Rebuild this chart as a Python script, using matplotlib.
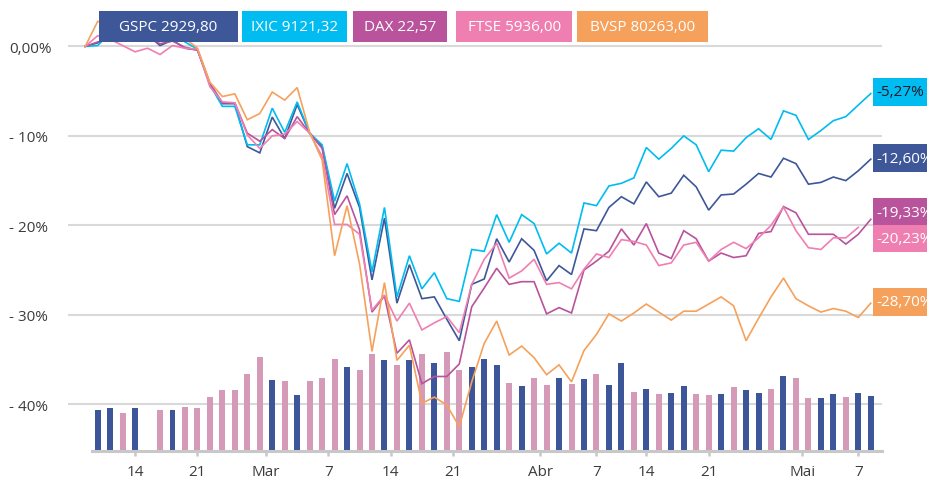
import numpy as np
import matplotlib.pyplot as plt
import matplotlib as mpl
from matplotlib.patches import Rectangle
from matplotlib.transforms import blended_transform_factory

mpl.rcParams['font.family'] = ['Open Sans', 'DejaVu Sans']

# variação acumulada (%) por pregão, primeiro ponto = base
gspc = [0.0, 0.4, 1.0, 1.2, 1.4, 1.3, 0.1, 0.7, -0.2, -0.4,
        -4.2, -6.4, -6.4, -11.2, -11.9, -7.9, -10.3, -6.5, -9.7, -11.2,
        -18.1, -14.2, -18.0, -26.1, -19.2, -28.7, -24.4, -28.2, -28.0, -30.5,
        -32.9, -26.6, -26.0, -21.5, -24.1, -21.5, -22.8, -26.2, -24.5, -25.5,
        -20.4, -20.6, -18.0, -16.8, -17.6, -15.15, -16.8, -16.4, -14.4, -15.7,
        -18.3, -16.6, -16.5, -15.4, -14.2, -14.6, -12.5, -13.1, -15.4, -15.2,
        -14.6, -15.0, -13.9, -12.60]
ixic = [0.0, 0.1, 1.5, 1.8, 2.0, 2.2, 1.0, 1.6, 0.5, -0.3,
        -4.3, -6.7, -6.7, -11.0, -11.0, -6.9, -9.6, -6.2, -9.7, -11.0,
        -17.3, -13.1, -17.6, -25.2, -18.0, -28.0, -23.4, -27.1, -25.3, -28.2,
        -28.5, -22.7, -22.9, -18.8, -21.9, -18.8, -19.8, -23.2, -22.0, -23.1,
        -17.5, -17.8, -15.6, -15.3, -14.7, -11.3, -12.6, -11.4, -10.0, -11.0,
        -14.0, -11.6, -11.7, -10.2, -9.2, -10.4, -7.2, -7.7, -10.4, -9.4,
        -8.3, -7.85, -6.55, -5.27]
dax = [0.0, 0.5, 0.8, 1.0, 1.2, 1.0, 0.3, 0.6, -0.1, -0.4,
       -4.1, -6.3, -6.3, -9.7, -10.6, -9.3, -10.3, -7.85, -9.7, -11.4,
       -18.8, -16.7, -20.5, -29.7, -27.9, -34.3, -32.8, -37.7, -36.9, -36.9,
       -35.5, -29.1, -27.0, -24.8, -26.6, -26.3, -26.3, -29.9, -29.2, -29.8,
       -25.0, -24.0, -22.9, -20.4, -22.2, -19.8, -23.1, -23.7, -20.6, -21.5,
       -24.0, -23.1, -23.6, -23.4, -20.9, -20.7, -17.9, -18.6, -21.0, -21.0,
       -21.0, -22.1, -21.0, -19.33]
ftse = [0.0, 1.2, 0.8, 0.1, -0.6, -0.2, -0.9, 0.1, -0.2, -0.3,
        -4.5, -6.2, -6.3, -9.9, -11.4, -10.0, -9.8, -8.4, -9.7, -12.3,
        -19.9, -19.9, -21.0, -29.5, -27.8, -30.7, -28.7, -31.7, -30.9, -30.2,
        -32.0, -26.6, -23.8, -22.0, -25.9, -25.1, -23.8, -26.6, -26.4, -27.1,
        -24.9, -23.2, -23.6, -21.6, -21.8, -22.2, -24.5, -24.2, -22.2, -21.9,
        -24.0, -22.7, -21.9, -22.6, -21.4, -20.0, -17.95, -20.6, -22.5, -22.7,
        -21.4, -21.4, -20.23]
bvsp = [0.0, 2.8, 2.5, 2.0, 2.2, 2.0, 1.5, 2.0, 0.9, -0.2,
        -4.0, -5.6, -5.3, -8.2, -7.5, -5.1, -6.0, -4.6, -9.6, -12.7,
        -23.4, -17.8, -24.3, -34.1, -26.4, -35.1, -33.4, -39.9, -39.2, -40.1,
        -42.5, -37.5, -33.2, -30.7, -34.5, -33.5, -34.8, -36.7, -35.6, -37.5,
        -34.0, -32.2, -29.9, -30.7, -29.8, -28.8, -29.7, -30.6, -29.6, -29.6,
        -28.8, -28.0, -29.0, -32.9, -30.4, -28.0, -25.9, -28.2, -29.0, -29.7,
        -29.3, -29.6, -30.3, -28.70]

# barras (altura, unidade do gráfico) e sentido do dia (B = alta, P = queda)
bar_vals = [4.56, 4.78, 4.22, 4.78, None, 4.56, 4.56, 4.89, 4.78, 6.0,
            6.78, 6.78, 8.56, 10.56, 7.89, 7.78, 6.22, 7.78, 8.11, 10.33,
            9.44, 9.0, 10.89, 10.22, 9.67, 10.22, 10.89, 9.89, 11.11, 9.11,
            9.44, 10.33, 9.67, 7.56, 7.22, 8.11, 7.33, 8.11, 7.44, 8.0,
            8.56, 7.33, 9.89, 6.56, 6.89, 6.33, 6.44, 7.22, 6.33, 6.22,
            6.33, 7.11, 6.78, 6.44, 6.89, 8.33, 8.11, 5.89, 5.89, 6.33,
            6.0, 6.44, 6.11]
bar_dir = ("BBPB-PBPPP" "PPPPBPBPPP" "BPPBPBPBPP" "BBBPBPPBPB"
           "PBBPBPBBPP" "BPBBPBPPBB" "PBB")

tick_pos = [3, 8, 13.5, 18.5, 23.5, 28.5, 35.5, 40, 44, 49, 56.5, 61]
tick_labels = ['14', '21', 'Mar', '7', '14', '21', 'Abr', '7', '14', '21', 'Mai', '7']

names = ['GSPC', 'IXIC', 'DAX', 'FTSE', 'BVSP']
levels = ['2929,80', '9121,32', '22,57', '5936,00', '80263,00']

c_gspc = '#3d5799'
c_ixic = '#00bcf1'
c_dax = '#b8539c'
c_ftse = '#f07fb1'
c_bvsp = '#f6a15b'
c_bar_up = '#3d5599'
c_bar_dn = '#d49ab8'

W, H = 928, 481
YMIN, YMAX = -45.23, 4.7

fig = plt.figure(figsize=(W / 100, H / 100), dpi=100)
ax = fig.add_axes([68 / W, 1 - 452 / H, (882 - 68) / W, (452 - 5.4) / H])
ax.set_xlim(-2.38, 62.9)
ax.set_ylim(YMIN, YMAX)

for v in [0, -10, -20, -30, -40]:
    ax.axhline(v, color='#d9d9d9', lw=1.5, zorder=1)

# barras
bx = np.arange(len(bar_vals))
for x, h, d in zip(bx, bar_vals, bar_dir):
    if h is None:
        continue
    ax.bar(x, h, bottom=YMIN, width=0.48,
           color=c_bar_up if d == 'B' else c_bar_dn, zorder=2)

# linhas
series = [gspc, ixic, dax, ftse, bvsp]
colors = [c_gspc, c_ixic, c_dax, c_ftse, c_bvsp]
for s, c in zip(series, colors):
    xs = np.arange(len(s)) - 1
    ax.plot(xs, s, color=c, lw=1.2, zorder=3, solid_joinstyle='miter')

for sp in ['top', 'right', 'left']:
    ax.spines[sp].set_visible(False)
ax.spines['bottom'].set_bounds(-0.46, 62.9)
ax.spines['bottom'].set_color('#c8c8c8')
ax.spines['bottom'].set_linewidth(2.2)

ax.set_xticks(tick_pos, tick_labels)
ax.tick_params(axis='x', length=3.5, width=1.8, color='#c8c8c8', pad=6,
               labelsize=11, labelcolor='#3c3c3c')
ax.set_yticks([0, -10, -20, -30, -40], ['0,00%', '- 10%', '- 20%', '- 30%', '- 40%'])
ax.tick_params(axis='y', length=0, pad=42.5, labelsize=11, labelcolor='#3c3c3c')
for lbl in ax.get_yticklabels():
    lbl.set_horizontalalignment('left')

# legenda no topo
box_x = [(99, 238), (242, 347), (353, 447.5), (456.5, 571.7), (577.3, 707.7)]
for (x0, x1), n, lv, c in zip(box_x, names, levels, colors):
    fig.add_artist(Rectangle((x0 / W, 1 - 42.7 / H), (x1 - x0) / W, 30.7 / H,
                             transform=fig.transFigure, color=c, lw=0))
    fig.text((x0 + x1) / 2 / W, 1 - 27.6 / H, f'{n} {lv}', color='white',
             fontsize=11, ha='center', va='center')

# rótulos de fim de série
trans = blended_transform_factory(fig.transFigure, ax.transData)
label_y = [-12.48, -5.09, -18.51, -21.48, -28.56]
text_cols = ['white', '#1a1a2a', 'white', 'white', 'white']
for s, c, yc, tc in zip(series, colors, label_y, text_cols):
    ax.add_patch(Rectangle((873 / W, yc - 1.53), 0.1, 3.06, transform=trans,
                           color=c, lw=0, clip_on=False, zorder=5))
    txt = f'{s[-1]:.2f}'.replace('.', ',') + '%'
    ax.text(876 / W, yc, txt, transform=trans, color=tc, fontsize=11,
            ha='left', va='center', clip_on=False, zorder=6)

fig.savefig('out.png', dpi=100)
